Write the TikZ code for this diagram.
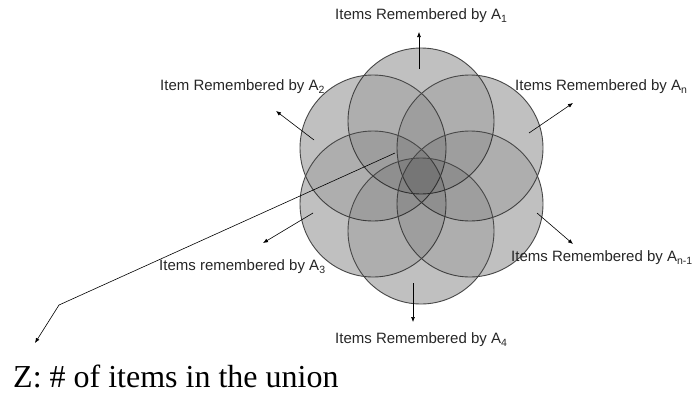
\documentclass[tikz,border=0pt]{standalone}
\usepackage{fontspec}
\setmainfont{Liberation Serif}
\setsansfont{Liberation Sans}
\usetikzlibrary{arrows.meta}
\definecolor{basegray}{gray}{0.83}
\tikzset{
  venn/.style={circle, minimum size=146pt, inner sep=0pt, draw=black!72, line width=0.9pt, fill=black, fill opacity=0.09},
  vbase/.style={circle, minimum size=146pt, inner sep=0pt, fill=basegray},
  lbl/.style={anchor=west, inner sep=0pt, font=\sffamily\fontsize{15}{17}\selectfont, text=black!85},
  arr/.style={draw=black, line width=0.6pt, -{Latex[length=5pt,width=4pt]}},
}
\begin{document}
\begin{tikzpicture}[x=1pt,y=-1pt]
\useasboundingbox (0,0) rectangle (692,394);
% centres
\coordinate (p1) at (421,121);
\coordinate (p2) at (373,148);
\coordinate (pn) at (470,148);
\coordinate (p3) at (373,204);
\coordinate (pm) at (470,204);
\coordinate (p4) at (421,231);
% base of the union
\foreach \p in {p1,p2,pn,p3,pm,p4} \node[vbase] (b\p) at (\p) {};
% circles
\node[venn] (c1) at (p1) {};
\node[venn] (c2) at (p2) {};
\node[venn] (cn) at (pn) {};
\node[venn] (c3) at (p3) {};
\node[venn] (cm) at (pm) {};
\node[venn] (c4) at (p4) {};
% labels
\node[lbl] (l1) at (335,16) {Items Remembered by A\textsubscript{1}};
\node[lbl] (l2) at (160,87) {Item Remembered by A\textsubscript{2}};
\node[lbl] (ln) at (515,87) {Items Remembered by A\textsubscript{n}};
\node[lbl] (lm) at (511,258) {Items Remembered by A\textsubscript{n-1}};
\node[lbl] (l3) at (159,267) {Items remembered by A\textsubscript{3}};
\node[lbl] (l4) at (335,340) {Items Remembered by A\textsubscript{4}};
% arrow coordinates
\coordinate (s1) at (419,69);  \coordinate (e1) at (419,32);
\coordinate (s2) at (314,140); \coordinate (e2) at (276,111);
\coordinate (sn) at (529,133); \coordinate (en) at (573,103);
\coordinate (sm) at (537,213); \coordinate (em) at (573,244);
\coordinate (s3) at (313,213); \coordinate (e3) at (263,243);
\coordinate (s4) at (413,283); \coordinate (e4) at (413,322);
\draw[arr] (s1) -- (e1);
\draw[arr] (s2) -- (e2);
\draw[arr] (sn) -- (en);
\draw[arr] (sm) -- (em);
\draw[arr] (s3) -- (e3);
\draw[arr] (s4) -- (e4);
% union pointer
\coordinate (zc) at (395,153);
\coordinate (zb) at (59,305);
\coordinate (ze) at (35,343);
\draw[line width=0.6pt] (zc) -- (zb);
\draw[arr] (zb) -- (ze);
\node[anchor=base west, inner sep=0pt, font=\fontsize{32}{36}\selectfont] (z) at (13,387) {Z: \# of items in the union};
\end{tikzpicture}
\end{document}
